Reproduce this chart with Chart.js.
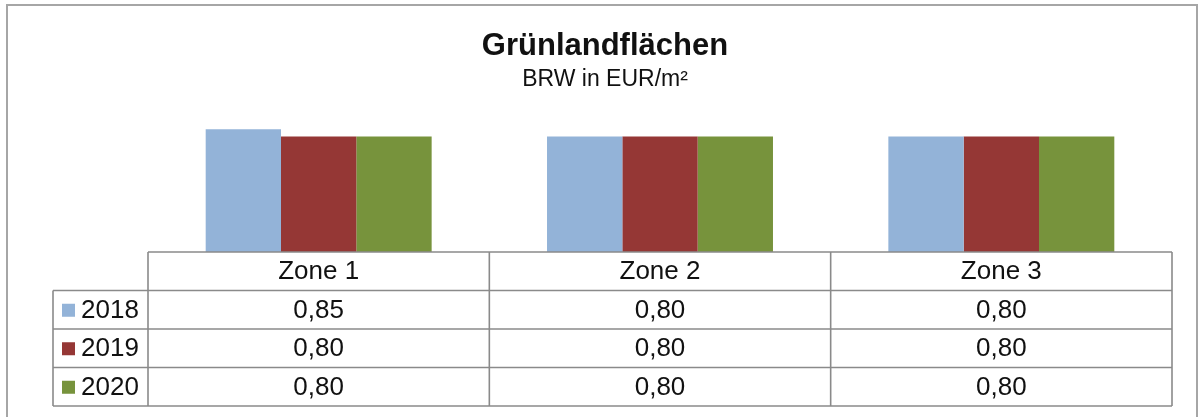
<!DOCTYPE html>
<html lang="de">
<head>
<meta charset="utf-8">
<title>Grünlandflächen</title>
<script src="https://cdn.jsdelivr.net/npm/chart.js@4.4.1/dist/chart.umd.min.js"></script>
<style>
  html, body { margin: 0; padding: 0; background: #fff; }
  #wrap { width: 1199px; height: 417px; position: relative; }
</style>
</head>
<body>
<div id="wrap"><canvas id="chart"></canvas></div>
<script>
const zones      = ['Zone 1', 'Zone 2', 'Zone 3'];
const years      = ['2018', '2019', '2020'];
const values2018 = [0.85, 0.80, 0.80];
const values2019 = [0.80, 0.80, 0.80];
const values2020 = [0.80, 0.80, 0.80];
const colors     = ['#93B3D8', '#953735', '#77933C'];

const FONT = '"Liberation Sans", Arial, sans-serif';

function formatValue(v) {
  return v.toFixed(2).replace('.', ',');
}

// Rahmen, Titel und Datentabelle unter den Säulen
const tablePlugin = {
  id: 'tablePlugin',
  afterDraw(chart) {
    const ctx  = chart.ctx;
    const area = chart.chartArea;
    const x    = chart.scales.x;
    const step = (area.right - area.left) / zones.length;
    const rowH = 38.5;
    const top  = area.bottom;
    const legendLeft = 53;
    const series = [values2018, values2019, values2020];

    ctx.save();

    // äußerer Rahmen
    ctx.strokeStyle = '#a6a6a6';
    ctx.lineWidth = 2;
    ctx.strokeRect(7, 5, 1190, 420);

    // Titel
    ctx.fillStyle = '#111';
    ctx.textAlign = 'center';
    ctx.textBaseline = 'alphabetic';
    ctx.font = `bold 31px ${FONT}`;
    ctx.fillText('Grünlandflächen', 605, 55);
    ctx.font = `23px ${FONT}`;
    ctx.fillText('BRW in EUR/m²', 605, 86);

    // Tabellenlinien
    ctx.strokeStyle = '#8a8a8a';
    ctx.lineWidth = 1.6;
    ctx.beginPath();
    ctx.moveTo(area.left, top);
    ctx.lineTo(area.right, top);
    for (let r = 1; r <= years.length + 1; r++) {
      ctx.moveTo(legendLeft, top + r * rowH);
      ctx.lineTo(area.right, top + r * rowH);
    }
    for (let c = 0; c <= zones.length; c++) {
      ctx.moveTo(area.left + c * step, top);
      ctx.lineTo(area.left + c * step, top + (years.length + 1) * rowH);
    }
    ctx.moveTo(legendLeft, top + rowH);
    ctx.lineTo(legendLeft, top + (years.length + 1) * rowH);
    ctx.stroke();

    // Kopfzeile
    ctx.fillStyle = '#111';
    ctx.font = `26px ${FONT}`;
    ctx.textBaseline = 'middle';
    ctx.textAlign = 'center';
    zones.forEach((z, i) => {
      ctx.fillText(z, x.getPixelForTick(i), top + rowH / 2 + 1);
    });

    // Zeilen mit Legendenfeld und Werten
    years.forEach((y, r) => {
      const cy = top + (r + 1.5) * rowH + 1;
      ctx.fillStyle = colors[r];
      ctx.fillRect(62, cy - 7, 13, 13);
      ctx.fillStyle = '#111';
      ctx.textAlign = 'left';
      ctx.fillText(y, 81, cy);
      ctx.textAlign = 'center';
      series[r].forEach((v, i) => {
        ctx.fillText(formatValue(v), x.getPixelForTick(i), cy);
      });
    });

    ctx.restore();
  },
};

new Chart(document.getElementById('chart'), {
  type: 'bar',
  data: {
    labels: zones,
    datasets: [
      { label: years[0], data: values2018, backgroundColor: colors[0] },
      { label: years[1], data: values2019, backgroundColor: colors[1] },
      { label: years[2], data: values2020, backgroundColor: colors[2] },
    ],
  },
  options: {
    responsive: true,
    maintainAspectRatio: false,
    animation: false,
    devicePixelRatio: 1,
    layout: { padding: { left: 148, right: 27, top: 122, bottom: 165 } },
    datasets: {
      bar: { barPercentage: 1, categoryPercentage: 0.662, borderWidth: 0 },
    },
    scales: {
      x: { display: false },
      y: { display: false, min: 0, max: 0.9 },
    },
    plugins: {
      legend: { display: false },
      title: { display: false },
      tooltip: { enabled: false },
    },
  },
  plugins: [tablePlugin],
});
</script>
</body>
</html>
